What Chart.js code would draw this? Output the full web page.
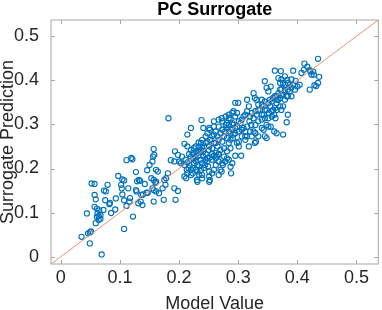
<!DOCTYPE html>
<html>
<head>
<meta charset="utf-8">
<script src="https://cdn.jsdelivr.net/npm/chart.js@4"></script>
<style>
html,body{margin:0;padding:0;background:#fff;}
canvas{display:block;}
</style>
</head>
<body>
<canvas id="c" width="382" height="310"></canvas>
<script>
// ---- data (Model Value, Surrogate Prediction) ----
const lowBand = [
[0.069,0.005],[0.035,0.045],[0.046,0.053],[0.049,0.055],[0.051,0.057],[0.049,0.030],[0.044,0.098],[0.052,0.166],[0.057,0.165],[0.057,0.140],
[0.059,0.130],[0.057,0.113],[0.061,0.109],[0.065,0.105],[0.062,0.098],[0.061,0.090],[0.064,0.092],[0.067,0.094],[0.059,0.076],[0.064,0.083],
[0.067,0.086],[0.073,0.150],[0.076,0.148],[0.079,0.163],[0.075,0.128],[0.072,0.106],[0.082,0.119],[0.083,0.122],[0.085,0.099],[0.092,0.107],
[0.093,0.132],[0.097,0.183],[0.102,0.163],[0.103,0.155],[0.107,0.173],[0.104,0.175],[0.104,0.141],[0.107,0.128],[0.111,0.219],[0.119,0.224],
[0.121,0.221],[0.114,0.155],[0.111,0.115],[0.116,0.125],[0.117,0.133],[0.107,0.063],[0.122,0.091],[0.127,0.192],[0.129,0.171],[0.127,0.151],
[0.128,0.148],[0.131,0.121],[0.135,0.125],[0.138,0.117],[0.132,0.174],[0.134,0.172],[0.136,0.140],[0.139,0.141],[0.145,0.145],[0.147,0.145],
[0.146,0.196],[0.142,0.165],[0.150,0.208],[0.155,0.216],[0.156,0.227],[0.158,0.231],[0.153,0.178],[0.157,0.174],[0.155,0.155],[0.157,0.151],
[0.157,0.125],[0.161,0.197],[0.164,0.193],[0.160,0.167],[0.161,0.170],[0.161,0.148],[0.166,0.144],[0.172,0.155],[0.175,0.174],[0.178,0.178],
[0.174,0.129],[0.177,0.163],[0.181,0.189],[0.186,0.219],[0.192,0.216],[0.192,0.155],[0.194,0.129],[0.198,0.149],[0.157,0.244],[0.193,0.239],
[0.182,0.314]
];
const midBand = [
[0.200,0.216],[0.203,0.212],[0.209,0.182],[0.212,0.178],[0.213,0.197],[0.216,0.201],[0.220,0.185],[0.223,0.189],[0.228,0.197],[0.231,0.193],
[0.230,0.174],[0.231,0.170],[0.237,0.197],[0.239,0.185],[0.239,0.178],[0.251,0.182],[0.252,0.174],[0.251,0.170],[0.251,0.193],[0.245,0.220],
[0.248,0.224],[0.270,0.197],[0.272,0.193],[0.267,0.185],[0.287,0.204],[0.288,0.189],[0.273,0.212],[0.274,0.208],[0.264,0.227],[0.267,0.231],
[0.262,0.223],[0.295,0.229],[0.305,0.229],[0.220,0.227],[0.224,0.222],[0.228,0.225],[0.233,0.229],[0.237,0.220],[0.241,0.227],[0.244,0.208],
[0.248,0.216],[0.252,0.225],[0.256,0.220],[0.259,0.229],[0.225,0.212],[0.234,0.205],[0.218,0.207],[0.211,0.220],[0.205,0.227],[0.198,0.231],
[0.278,0.216],[0.281,0.223],[0.220,0.197],[0.214,0.189],[0.256,0.189],[0.259,0.197],
[0.209,0.208],[0.214,0.214],[0.228,0.217],[0.239,0.212],[0.249,0.205],[0.262,0.208],[0.267,0.216],[0.276,0.227],[0.284,0.220],[0.290,0.212],
[0.234,0.186],[0.242,0.201],[0.223,0.201],[0.231,0.208],
[0.214,0.250],[0.220,0.242],[0.225,0.246],[0.223,0.235],[0.217,0.233],[0.228,0.239],[0.237,0.258],[0.239,0.265],[0.245,0.273],[0.248,0.280],
[0.251,0.250],[0.259,0.258],[0.265,0.250],[0.270,0.242],[0.276,0.246],[0.281,0.239],[0.287,0.246],[0.262,0.235],[0.245,0.233],[0.256,0.233],
[0.267,0.233],[0.234,0.250],[0.241,0.239],[0.250,0.242],[0.284,0.258],[0.265,0.273],[0.251,0.292],[0.259,0.295],[0.273,0.307],[0.284,0.314],
[0.295,0.318],[0.298,0.326],[0.290,0.326],
[0.209,0.256],[0.220,0.292],[0.214,0.277],[0.228,0.250],[0.233,0.259],[0.238,0.310],[0.241,0.292],[0.259,0.307],[0.252,0.288],[0.267,0.311],
[0.272,0.314],[0.279,0.318],[0.284,0.322],[0.292,0.330],[0.295,0.349],[0.300,0.349],[0.291,0.269],[0.298,0.258],[0.301,0.261],[0.312,0.265],
[0.284,0.284],[0.287,0.280],[0.279,0.299],[0.281,0.303],[0.290,0.288],[0.301,0.250],[0.318,0.250],
[0.306,0.311],[0.304,0.303],[0.301,0.307],[0.298,0.295],[0.295,0.292],[0.292,0.299],[0.290,0.303],[0.287,0.311],[0.284,0.299],[0.281,0.292],
[0.278,0.284],[0.273,0.288],[0.270,0.280],[0.267,0.295],[0.262,0.284],[0.259,0.277],[0.256,0.273],[0.253,0.265],[0.248,0.261],[0.245,0.258],
[0.242,0.250],[0.239,0.246],[0.237,0.242],[0.234,0.239],[0.231,0.235],[0.256,0.246],[0.262,0.258],[0.267,0.265],[0.273,0.261],[0.276,0.273],
[0.281,0.269],[0.287,0.265],[0.292,0.277],[0.295,0.280],[0.301,0.284],[0.306,0.288],[0.309,0.292],[0.306,0.273],[0.309,0.318]
];
const highBand = [
[0.315,0.356],[0.326,0.371],[0.328,0.360],[0.331,0.356],[0.334,0.333],[0.345,0.398],[0.348,0.383],[0.351,0.375],[0.355,0.386],[0.362,0.422],
[0.372,0.421],[0.368,0.405],[0.376,0.394],[0.379,0.379],[0.383,0.401],[0.384,0.379],[0.387,0.375],[0.390,0.364],[0.393,0.422],[0.397,0.399],
[0.400,0.386],[0.412,0.438],[0.407,0.417],[0.411,0.424],[0.417,0.431],[0.421,0.423],[0.422,0.420],[0.421,0.379],[0.427,0.420],[0.429,0.389],
[0.435,0.449],[0.437,0.408],[0.432,0.387],[0.435,0.394],[0.424,0.413],[0.428,0.413],[0.404,0.390],[0.362,0.364],[0.365,0.356],[0.361,0.322],
[0.363,0.314],[0.371,0.341],[0.373,0.333],[0.384,0.322],[0.382,0.305],[0.355,0.295],[0.361,0.284],[0.365,0.280],[0.376,0.277],[0.348,0.299],
[0.351,0.295],[0.340,0.322],[0.340,0.292],[0.343,0.288],[0.334,0.273],[0.326,0.284],[0.329,0.280],[0.319,0.307],[0.322,0.299],[0.312,0.273],
[0.315,0.273],[0.328,0.258],[0.330,0.261],[0.345,0.273],[0.348,0.269],
[0.340,0.345],[0.343,0.341],[0.345,0.352],[0.348,0.333],[0.351,0.348],[0.354,0.341],[0.354,0.356],[0.357,0.330],[0.359,0.333],[0.362,0.337],
[0.365,0.348],[0.368,0.356],[0.371,0.360],[0.373,0.367],[0.376,0.367],[0.379,0.375],[0.371,0.379],[0.373,0.380],[0.368,0.371],[0.365,0.364],
[0.359,0.360],[0.357,0.352],[0.352,0.326],[0.345,0.333],[0.343,0.322],[0.337,0.333],[0.334,0.345],[0.340,0.356],[0.329,0.330],[0.331,0.322],
[0.326,0.314],[0.323,0.326],[0.320,0.318],[0.318,0.341],[0.315,0.330],[0.312,0.322],
[0.315,0.295],[0.320,0.284],[0.312,0.284],[0.323,0.273],[0.329,0.299],[0.334,0.307],[0.340,0.311],[0.345,0.314],[0.351,0.314],[0.357,0.318],
[0.365,0.333],[0.376,0.341],[0.379,0.356],[0.382,0.364],[0.384,0.364],[0.390,0.383],[0.380,0.390],[0.373,0.402],[0.371,0.394],[0.384,0.394],
[0.387,0.390],[0.379,0.409],[0.390,0.402],[0.393,0.390],[0.396,0.379]
];
const axisLimits = [-0.0167, 0.537];
const tickValues = [0, 0.1, 0.2, 0.3, 0.4, 0.5];
const tickLabels = ['0', '0.1', '0.2', '0.3', '0.4', '0.5'];
const titleText = 'PC Surrogate';
const xTitle = 'Model Value';
const yTitle = 'Surrogate Prediction';

const FONT = '"Liberation Sans", Arial, Helvetica, sans-serif';
const samples = lowBand.concat(midBand, highBand).map(p => ({x: p[0], y: p[1]}));
const identity = axisLimits.map(v => ({x: v, y: v}));

const framePlugin = {
  id: 'frame',
  afterDraw(chart) {
    const {ctx, chartArea: a, scales} = chart;
    ctx.save();
    ctx.strokeStyle = '#a6a6a6';
    ctx.lineWidth = 1;
    ctx.strokeRect(a.left, a.top, a.right - a.left, a.bottom - a.top);
    ctx.beginPath();
    const L = 4;
    tickValues.forEach(v => {
      const x = Math.round(scales.x.getPixelForValue(v)) + 0.5;
      ctx.moveTo(x, a.bottom); ctx.lineTo(x, a.bottom - L);
      ctx.moveTo(x, a.top); ctx.lineTo(x, a.top + L);
      const y = Math.round(scales.y.getPixelForValue(v)) + 0.5;
      ctx.moveTo(a.left, y); ctx.lineTo(a.left + L, y);
      ctx.moveTo(a.right, y); ctx.lineTo(a.right - L, y);
    });
    ctx.stroke();
    ctx.fillStyle = '#000';
    ctx.font = 'bold 18px ' + FONT;
    ctx.textAlign = 'center';
    ctx.textBaseline = 'alphabetic';
    ctx.fillText(titleText, (a.left + a.right) / 2, 15);
    ctx.restore();
  }
};

new Chart(document.getElementById('c'), {
  data: {
    datasets: [
      {type: 'line', data: identity, borderColor: '#EE9170', borderWidth: 1, pointRadius: 0, fill: false},
      {type: 'scatter', data: samples, borderColor: '#0072BD', backgroundColor: 'rgba(0,0,0,0)',
       borderWidth: 1.1, pointRadius: 2.6, pointHoverRadius: 2.6}
    ]
  },
  options: {
    responsive: false,
    devicePixelRatio: 1,
    animation: false,
    layout: {padding: {top: 20, right: 1, left: 0, bottom: 0}},
    plugins: {legend: {display: false}, tooltip: {enabled: false}, title: {display: false}},
    scales: {
      x: {
        type: 'linear', min: axisLimits[0], max: axisLimits[1],
        afterBuildTicks: s => { s.ticks = tickValues.map(v => ({value: v})); },
        afterFit: s => { s.height = 46; },
        grid: {display: false}, border: {display: false},
        ticks: {padding: -5, color: '#262626', font: {family: FONT, size: 18},
                maxRotation: 0, autoSkip: false,
                callback: (v, i) => tickLabels[i]},
        title: {display: true, text: xTitle, color: '#262626',
                font: {family: FONT, size: 18, lineHeight: 1}, padding: {top: 0, bottom: -3}}
      },
      y: {
        type: 'linear', min: axisLimits[0], max: axisLimits[1],
        afterBuildTicks: s => { s.ticks = tickValues.map(v => ({value: v})); },
        afterFit: s => { s.width = 51; },
        grid: {display: false}, border: {display: false},
        ticks: {padding: 4, color: '#262626', font: {family: FONT, size: 18}, autoSkip: false,
                callback: (v, i) => tickLabels[i]},
        title: {display: true, text: yTitle, color: '#262626',
                font: {family: FONT, size: 18, lineHeight: 1.2}, padding: {top: -3, bottom: 0}}
      }
    }
  },
  plugins: [framePlugin]
});
</script>
</body>
</html>
